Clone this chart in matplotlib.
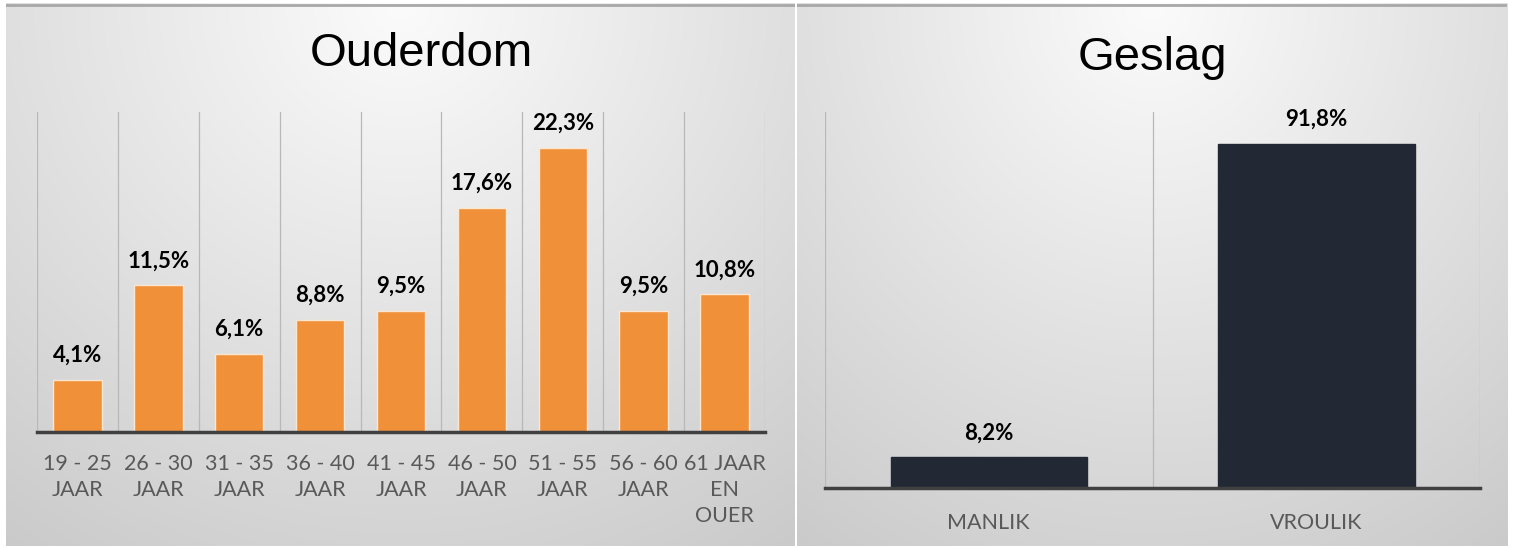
import numpy as np
import matplotlib.pyplot as plt

# Ouderdom data
age_groups = ['19 - 25\nJAAR', '26 - 30\nJAAR', '31 - 35\nJAAR', '36 - 40\nJAAR', '41 - 45\nJAAR',
              '46 - 50\nJAAR', '51 - 55\nJAAR', '56 - 60\nJAAR', '61 JAAR\nEN\nOUER']
age_pct = [4.1, 11.5, 6.1, 8.8, 9.5, 17.6, 22.3, 9.5, 10.8]

# Geslag data
genders = ['MANLIK', 'VROULIK']
gender_pct = [8.2, 91.8]

W, H = 1514, 548
fig = plt.figure(figsize=(W / 100, H / 100), dpi=100)
fig.patch.set_facecolor('white')


def panel_background(x0, x1, y0, y1):
    """grijs radiaal verloop achter een paneel (pixels)"""
    ax = fig.add_axes([x0 / W, 1 - y1 / H, (x1 - x0) / W, (y1 - y0) / H], zorder=0)
    xx, yy = np.meshgrid(np.linspace(0, 1, 300), np.linspace(0, 1, 200))
    r = np.sqrt(((xx - 0.5) / 0.75) ** 2 + (yy / 1.05) ** 2)
    v = np.clip(0.985 - 0.165 * r, 0, 1)
    ax.imshow(np.dstack([v, v, v]), aspect='auto', extent=[0, 1, 1, 0])
    ax.plot([0, 1], [0.003, 0.003], color='#a8a8a8', lw=2)
    ax.set_xlim(0, 1)
    ax.set_ylim(1, 0)
    ax.axis('off')


panel_background(6, 795, 3, 546)
panel_background(797, 1507, 3, 546)

tick_font = dict(family=['Lato', 'DejaVu Sans'], size=15.5, color='#595959')
label_font = dict(family=['Lato', 'DejaVu Sans'], size=16, weight='bold', color='black')
title_font = dict(family=['Liberation Sans', 'DejaVu Sans'], size=34, color='black')


def bar_panel(rect, cats, vals, color, ymax, pad):
    ax = fig.add_axes(rect, zorder=2)
    ax.set_facecolor('none')
    x = np.arange(len(cats))
    ax.bar(x, vals, width=0.6, color=color, edgecolor='#fbe6d2' if color != '#222834' else color,
           linewidth=1, zorder=3)
    for b in np.arange(len(cats) + 1) - 0.5:
        ax.axvline(b, color='#b8b8b8', lw=0.9, zorder=1)
    for xi, v in zip(x, vals):
        ax.annotate(f'{v:.1f}%'.replace('.', ','), (xi, v), xytext=(0, 13),
                    textcoords='offset points', ha='center', va='baseline', **label_font)
    ax.set_xlim(-0.5, len(cats) - 0.5)
    ax.set_ylim(0, ymax)
    ax.set_xticks(x)
    ax.set_xticklabels(cats, linespacing=1.38, **tick_font)
    ax.tick_params(axis='x', length=0, pad=pad)
    ax.set_yticks([])
    for s in ['top', 'left', 'right']:
        ax.spines[s].set_visible(False)
    ax.spines['bottom'].set_color('#404040')
    ax.spines['bottom'].set_linewidth(2.5)
    ax.spines['bottom'].set_zorder(4)
    return ax


bar_panel([37 / W, 1 - 432 / H, (765 - 37) / W, (432 - 112) / H], age_groups, age_pct,
          '#F0913A', 25.1, 16)
bar_panel([825 / W, 1 - 488 / H, (1480 - 825) / W, (488 - 112) / H], genders, gender_pct,
          '#222834', 100.3, 18)

fig.text(421 / W, 1 - 66 / H, 'Ouderdom', ha='center', va='baseline', zorder=5, **title_font)
fig.text(1152 / W, 1 - 70 / H, 'Geslag', ha='center', va='baseline', zorder=5, **title_font)

fig.savefig('out.png', dpi=100)
